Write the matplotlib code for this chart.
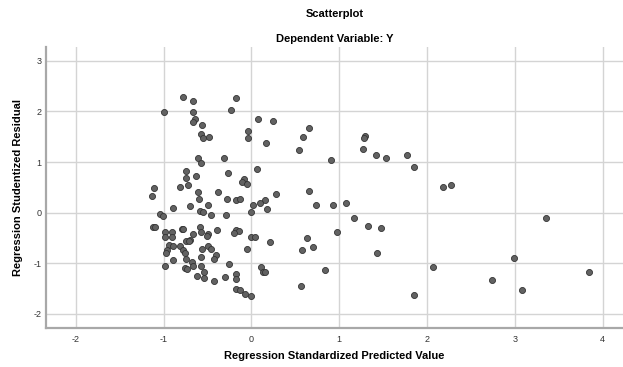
import matplotlib
matplotlib.use("Agg")
import matplotlib.pyplot as plt

# standardized predicted value (x) and studentized residual (y)
pred = [-0.78, -0.67, -0.18, -1.00, -0.67, -0.23, -0.64, -0.67, -0.56, 0.07,
        0.24, -0.04, -0.04, -0.57, -0.55, -0.48, 0.16, 0.59, 0.66, 0.54,
        -0.61, -0.57, -0.31, 0.06, -0.75, -0.27, -0.75, -0.63, -0.09, -0.11,
        -0.05, -1.11, -0.81, -0.72, 0.65, -1.13, -0.61, -0.38, 0.28, -0.60,
        -0.28, -0.18, -0.13, 0.15, 0.10, 0.02, -0.89, -0.70, -0.49, 0.18,
        -0.59, -0.55, -0.46, -0.29, -0.01, -1.04, -1.01, -1.12, -1.10, -0.99,
        -0.91, -0.99, -0.90, -0.79, -0.78, -0.59, -0.57, -0.67, -0.50, -0.51,
        -0.39, -0.18, -0.14, -0.20, 0.00, 0.04, 0.21, 0.63, 0.58, -0.75,
        -0.70, -0.71, -0.94, -0.89, -0.81, -0.96, -0.97, -0.78, -0.76, -0.50,
        -0.46, -0.56, -0.40, -0.43, -0.58, -0.05, -0.89, -0.75, -0.68, -0.67,
        -0.58, -0.26, -0.99, -0.76, -0.73, -0.54, -0.62, -0.54, -0.43, -0.30,
        -0.18, -0.18, 0.11, 0.13, 0.15, -0.18, -0.13, -0.07, 0.00, 0.56,
        0.90, 1.29, 1.28, 1.27, 1.42, 1.53, 1.77, 1.85, 2.18, 2.27,
        0.73, 0.93, 1.08, 1.17, 1.33, 1.48, 0.97, 0.70, 1.43, 0.84,
        2.07, 1.85, 3.35, 2.99, 2.74, 3.08, 3.84]
resid = [2.29, 2.20, 2.27, 1.99, 1.99, 2.02, 1.85, 1.80, 1.73, 1.86,
         1.81, 1.61, 1.47, 1.55, 1.47, 1.49, 1.37, 1.49, 1.67, 1.24,
         1.07, 0.99, 1.07, 0.86, 0.83, 0.79, 0.69, 0.72, 0.67, 0.61,
         0.56, 0.49, 0.51, 0.55, 0.43, 0.32, 0.40, 0.40, 0.36, 0.26,
         0.27, 0.25, 0.27, 0.25, 0.19, 0.15, 0.10, 0.13, 0.15, 0.07,
         0.03, 0.01, -0.04, -0.05, 0.02, -0.03, -0.06, -0.28, -0.28, -0.38,
         -0.38, -0.49, -0.48, -0.32, -0.33, -0.28, -0.38, -0.43, -0.42, -0.47,
         -0.35, -0.34, -0.36, -0.41, -0.49, -0.49, -0.59, -0.51, -0.74, -0.56,
         -0.54, -0.57, -0.64, -0.66, -0.66, -0.74, -0.80, -0.74, -0.80, -0.65,
         -0.72, -0.72, -0.83, -0.91, -0.87, -0.72, -0.93, -0.92, -0.97, -1.05,
         -1.05, -1.01, -1.06, -1.09, -1.11, -1.17, -1.26, -1.30, -1.35, -1.28,
         -1.22, -1.31, -1.07, -1.17, -1.18, -1.50, -1.52, -1.60, -1.64, -1.45,
         1.05, 1.52, 1.47, 1.26, 1.14, 1.07, 1.13, 0.90, 0.50, 0.54,
         0.15, 0.15, 0.20, -0.11, -0.26, -0.30, -0.38, -0.68, -0.80, -1.13,
         -1.07, -1.62, -0.11, -0.89, -1.33, -1.53, -1.18]

x_ticks = [-2, -1, 0, 1, 2, 3, 4]
y_ticks = [-2, -1, 0, 1, 2, 3]

plt.rcParams['font.family'] = ['Liberation Sans', 'DejaVu Sans']
plt.rcParams['axes.unicode_minus'] = False

fig = plt.figure(figsize=(6.23, 3.67), dpi=100)
ax = fig.add_axes([0.0738, 0.1063, 0.9262, 0.7665])

ax.scatter(pred, resid, s=19, facecolor='#626262', edgecolor='#333333',
           linewidth=0.6, zorder=3)

ax.set_xlim(-2.34, 4.23)
ax.set_ylim(-2.28, 3.28)
ax.set_xticks(x_ticks)
ax.set_yticks(y_ticks)
ax.grid(True, color='#d4d4d4', linewidth=1.0, zorder=0)
ax.tick_params(axis='x', length=0, labelsize=6.5, labelcolor='#333333', pad=5)
ax.tick_params(axis='y', length=0, labelsize=6.5, labelcolor='#333333', pad=3)

for side in ['top', 'right']:
    ax.spines[side].set_visible(False)
for side in ['left', 'bottom']:
    ax.spines[side].set_color('#a8a8a8')
    ax.spines[side].set_linewidth(1.6)

fig.text(0.537, 0.030, 'Regression Standardized Predicted Value', ha='center',
         va='center', fontsize=8, fontweight='bold')
fig.text(0.029, 0.49, 'Regression Studentized Residual', ha='center',
         va='center', rotation=90, fontsize=8, fontweight='bold')

fig.text(0.537, 0.963, 'Scatterplot', ha='center', va='center',
         fontsize=8, fontweight='bold')
fig.text(0.537, 0.895, 'Dependent Variable: Y', ha='center', va='center',
         fontsize=8, fontweight='bold')

fig.savefig('out.png', dpi=100)
